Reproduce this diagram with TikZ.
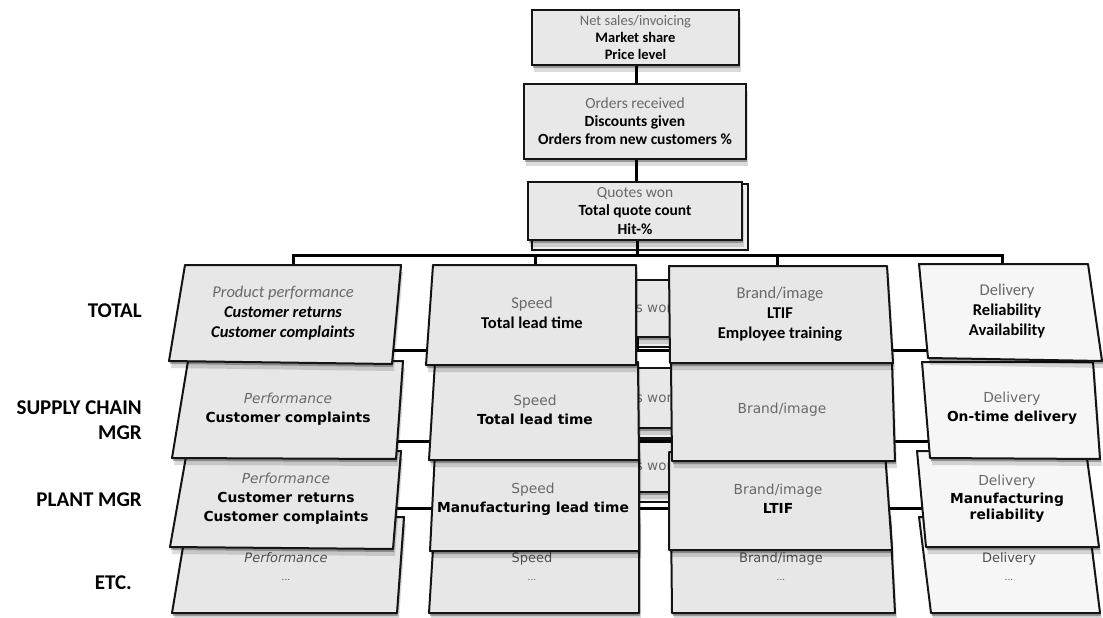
\documentclass[tikz,border=0pt]{standalone}
\usepackage{fontspec}
\setmainfont{Carlito}
\newfontfamily\vfont{DejaVu Sans}
\definecolor{cardgray}{RGB}{231,231,231}
\definecolor{cardpale}{RGB}{238,238,238}
\definecolor{cardlight}{RGB}{246,246,246}
\definecolor{boxgray}{RGB}{232,232,232}
\definecolor{headgray}{RGB}{105,105,105}
\definecolor{etcgray}{RGB}{80,80,80}
\definecolor{edge}{RGB}{20,20,20}

% one card of a layer: style options, then its four corners
\newcommand\card[5]{\filldraw[card,#1] (#2) -- (#3) -- (#4) -- (#5) -- cycle;}

\begin{document}
\begin{tikzpicture}[x=1pt,y=-1pt,
  softshadow/.style={
    preaction={fill=black, opacity=0.30, transform canvas={shift={(1pt,-3pt)}}},
    preaction={fill=black, opacity=0.14, transform canvas={shift={(2pt,-7pt)}}}},
  card/.style={draw=edge, line width=2pt, line join=round, fill=cardgray, softshadow},
  topbox/.style={draw=edge, line width=2pt, fill=boxgray, align=center, inner sep=0pt, softshadow},
  backbox/.style={draw=edge, line width=1.6pt, fill=cardpale, inner sep=0pt, minimum width=216pt},
  conn/.style={line width=3pt, black},
  ctxt/.style={align=center, inner sep=0pt, font=\fontsize{16.5}{20}\selectfont},
  vtxt/.style={align=center, inner sep=0pt, font=\vfont\fontsize{13.8}{19}\selectfont},
  etxt/.style={align=center, inner sep=0pt, text=etcgray, font=\vfont\fontsize{13}{22}\selectfont},
  qtxt/.style={font=\vfont\fontsize{13.5}{18}\selectfont},
  rowlabel/.style={anchor=east, align=right, inner sep=0pt, font=\bfseries\fontsize{21}{25}\selectfont}]
\useasboundingbox (0,0) rectangle (1103,618);

% ================= layer 4 : ETC. =================
\node[backbox, minimum height=60pt] (q4b) at (640,472) {};
\node[topbox, minimum width=214pt, minimum height=52pt, qtxt] (q4) at (635,466) {\textcolor{headgray}{Quotes won}};
\coordinate (b4L) at (293,508);
\coordinate (b4R) at (1002,508);
\draw[conn] (b4L) -- (b4R);
\draw[conn] (q4.south -| 637,0) -- (637,508);
\card{}{188,517}{404,517}{397,613}{172,613}
\card{}{435,517}{639,517}{639,613}{429,613}
\card{}{671,517}{890,517}{895,613}{672,613}
\card{fill=cardlight}{919,517}{1088,517}{1100,613}{931,613}
\node[etxt] (e1) at (286,567) {\itshape Performance\\[-4pt]{\fontsize{9}{9}\selectfont ...}};
\node[etxt] (e2) at (532,567) {Speed\\[-4pt]{\fontsize{9}{9}\selectfont ...}};
\node[etxt] (e3) at (781,567) {Brand/image\\[-4pt]{\fontsize{9}{9}\selectfont ...}};
\node[etxt] (e4) at (1009,567) {Delivery\\[-4pt]{\fontsize{9}{9}\selectfont ...}};

% ================= layer 3 : PLANT MGR =================
\node[backbox, minimum height=68pt] (q3b) at (640,404) {};
\node[topbox, minimum width=214pt, minimum height=60pt, qtxt] (q3) at (635,398) {\textcolor{headgray}{Quotes won}};
\coordinate (b3L) at (293,441);
\coordinate (b3R) at (1002,441);
\draw[conn] (b3L) -- (b3R);
\draw[conn] (q3.south -| 637,0) -- (637,441);
\card{}{187,451}{401,451}{393,549}{170,547}
\card{}{435,452}{639,452}{639,551}{430,551}
\card{}{669,452}{885,452}{892,550}{669,550}
\card{fill=cardlight}{917,451}{1086,451}{1099,547}{926,547}
\node[vtxt] (p1) at (286,499) {\textcolor{headgray}{\itshape Performance}\\\bfseries Customer returns\\\bfseries Customer complaints};
\node[vtxt] (p2) at (533,499) {\textcolor{headgray}{Speed}\\\bfseries Manufacturing lead time};
\node[vtxt] (p3) at (778,499) {\textcolor{headgray}{Brand/image}\\\bfseries LTIF};
\node[vtxt, font=\vfont\fontsize{13.8}{16}\selectfont] (p4) at (1007,499) {\textcolor{headgray}{Delivery}\\[2pt]\bfseries Manufacturing\\\bfseries reliability};

% ================= layer 2 : SUPPLY CHAIN MGR =================
\node[backbox, minimum height=65pt] (q2b) at (640,314.5) {};
\node[topbox, minimum width=214pt, minimum height=57pt, qtxt] (q2) at (635,308.5) {\textcolor{headgray}{Quotes won}};
\coordinate (b2L) at (293,350);
\coordinate (b2R) at (1002,350);
\draw[conn] (b2L) -- (b2R);
\draw[conn] (q2.south -| 637,0) -- (637,350);
\card{}{188,361}{403,361}{396,459}{172,458}
\card{}{435,362}{638,362}{639,460}{429,460}
\card{}{671,362}{892,362}{895,461}{672,461}
\card{fill=cardlight}{922,362}{1093,362}{1100,459}{930,458}
\node[vtxt] (s1) at (288,409) {\textcolor{headgray}{\itshape Performance}\\\bfseries Customer complaints};
\node[vtxt] (s2) at (535,409.5) {\textcolor{headgray}{Speed}\\\bfseries Total lead time};
\node[vtxt] (s3) at (782,410) {\textcolor{headgray}{Brand/image}};
\node[vtxt] (s4) at (1012,408) {\textcolor{headgray}{Delivery}\\\bfseries On-time delivery};

% ================= layer 1 : TOTAL =================
\node[topbox, minimum width=207pt, minimum height=55pt, font=\fontsize{14.5}{17}\selectfont] (n1) at (635.5,38)
  {\textcolor{headgray}{Net sales/invoicing}\\\bfseries Market share\\\bfseries Price level};
\node[topbox, minimum width=222pt, minimum height=75pt, font=\fontsize{15.5}{18}\selectfont] (n2) at (635,121.5)
  {\textcolor{headgray}{Orders received}\\\bfseries Discounts given\\\bfseries Orders from new customers \%};
\node[backbox, minimum height=66pt] (q1b) at (640,217) {};
\node[topbox, minimum width=214pt, minimum height=58pt, font=\fontsize{15.5}{18.5}\selectfont] (q1) at (635,211)
  {\textcolor{headgray}{Quotes won}\\\bfseries Total quote count\\\bfseries Hit-\%};
\draw[conn] (n1.south -| 636,0) -- (n2.north -| 636,0);
\draw[conn] (n2.south -| 636,0) -- (q1.north -| 636,0);
\coordinate (b1L) at (293,255);
\coordinate (b1R) at (1002,255);
\coordinate (t11) at (293,267);
\coordinate (t12) at (535,267);
\coordinate (t13) at (777,267);
\coordinate (t14) at (1002,266);
\draw[conn] (t11) -- (b1L) -- (b1R) -- (t14);
\draw[conn] (t12) -- (t12 |- b1L);
\draw[conn] (t13) -- (t13 |- b1L);
\draw[conn] (q1.south -| 637,0) -- (637,255);
\card{}{185,265}{401,265}{392,364}{169,361}
\card{}{433,265}{636,265}{636,365}{426,365}
\card{}{669,266}{887,266}{893,363}{670,363}
\card{fill=cardlight}{919,264}{1088,264}{1102,361}{928,358}
\node[ctxt] (c1) at (283,313) {\textcolor{headgray}{\itshape Product performance}\\\bfseries\itshape Customer returns\\\bfseries\itshape Customer complaints};
\node[ctxt] (c2) at (532,313) {\textcolor{headgray}{Speed}\\\bfseries Total lead time};
\node[ctxt] (c3) at (780,314) {\textcolor{headgray}{Brand/image}\\\bfseries LTIF\\\bfseries Employee training};
\node[ctxt] (c4) at (1007,311) {\textcolor{headgray}{Delivery}\\\bfseries Reliability\\\bfseries Availability};

% ================= row labels =================
\node[rowlabel] (lTotal) at (142,311) {TOTAL};
\node[rowlabel] (lSupply) at (142,420.5) {SUPPLY CHAIN\\MGR};
\node[rowlabel] (lPlant) at (142,500) {PLANT MGR};
\node[rowlabel] (lEtc) at (132,583) {ETC.};
\end{tikzpicture}
\end{document}
